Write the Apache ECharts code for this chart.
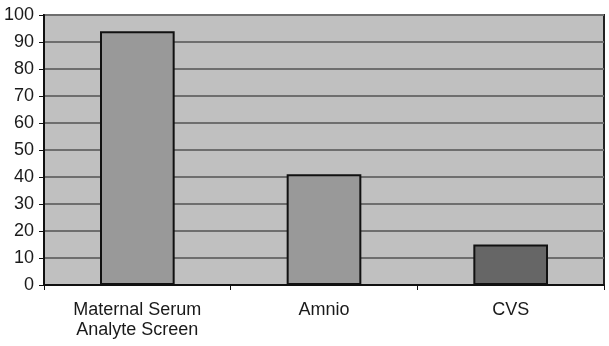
<!DOCTYPE html>
<html><head><meta charset="utf-8">
<script src="https://cdn.jsdelivr.net/npm/echarts@6/dist/echarts.min.js"></script>
<style>html,body{margin:0;padding:0;background:#fff}#c{width:609px;height:346px}</style>
</head><body><div id="c"></div>
<script>
var categories = ['Maternal Serum\nAnalyte Screen', 'Amnio', 'CVS'];
var values = [94, 41, 15];
var barColors = ['#999999', '#999999', '#666666'];
var chart = echarts.init(document.getElementById('c'));
chart.setOption({
  animation: false,
  grid: {left: 44, right: 5, top: 15, bottom: 61, show: true, backgroundColor: '#c0c0c0', borderColor: '#222', borderWidth: 2},
  xAxis: {
    type: 'category', data: categories,
    axisLine: {lineStyle: {color: '#111', width: 2}},
    axisTick: {show: true, length: 5, lineStyle: {color: '#111'}},
    axisLabel: {color: '#1a1a1a', fontFamily: 'Liberation Sans', fontSize: 18, lineHeight: 20, margin: 15}
  },
  yAxis: {
    type: 'value', min: 0, max: 100, interval: 10,
    axisLine: {show: true, lineStyle: {color: '#111', width: 2}},
    axisTick: {show: true, length: 5, lineStyle: {color: '#111'}},
    axisLabel: {color: '#1a1a1a', fontFamily: 'Liberation Sans', fontSize: 18, margin: 10},
    splitLine: {lineStyle: {color: '#6e6e6e', width: 2}}
  },
  series: [{
    type: 'bar', barWidth: '40%',
    data: values.map(function(v, i){ return {value: v, itemStyle: {color: barColors[i]}}; }),
    itemStyle: {borderColor: '#111', borderWidth: 2}
  }]
});
</script></body></html>
